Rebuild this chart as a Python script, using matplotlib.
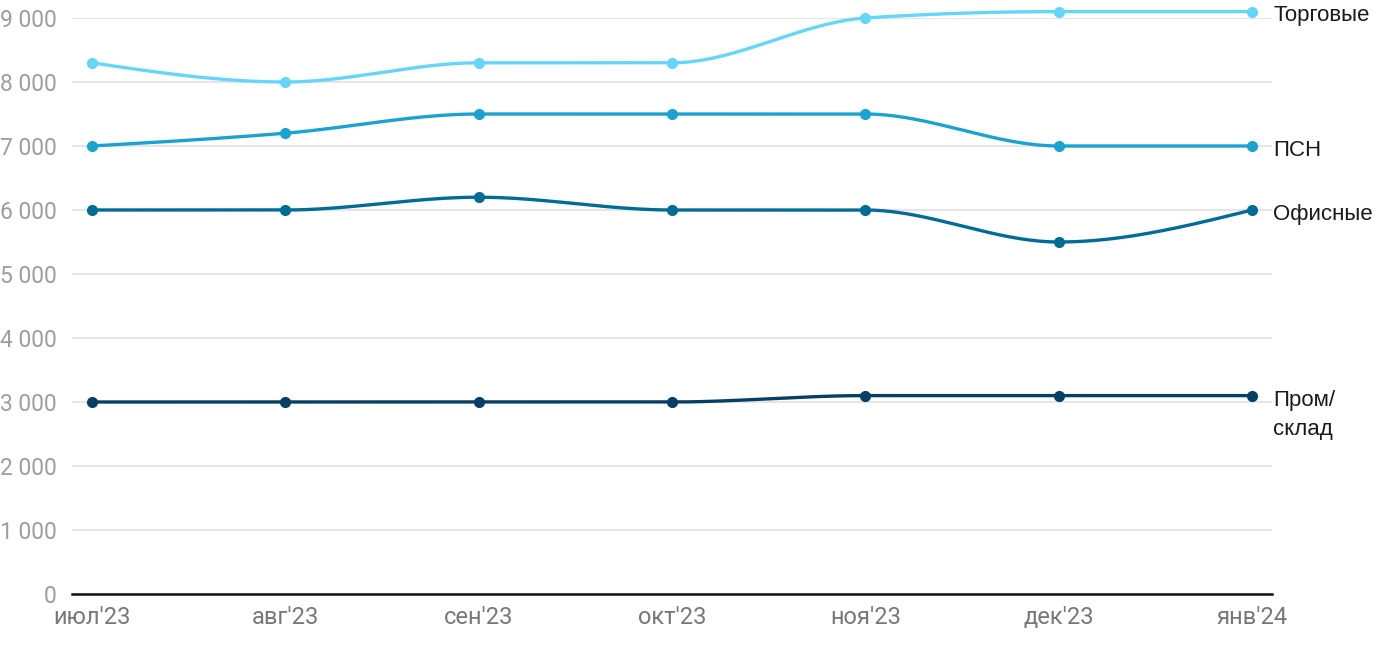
import numpy as np
import matplotlib.pyplot as plt

months = ["июл'23", "авг'23", "сен'23", "окт'23", "ноя'23", "дек'23", "янв'24"]
torgovye = [8300, 8000, 8300, 8300, 9000, 9100, 9100]
psn = [7000, 7200, 7500, 7500, 7500, 7000, 7000]
ofisnye = [6000, 6000, 6200, 6000, 6000, 5500, 6000]
prom = [3000, 3000, 3000, 3000, 3100, 3100, 3100]

series = [
    ("Торговые", torgovye, "#66d5fa"),
    ("ПСН", psn, "#1aa3d1"),
    ("Офисные", ofisnye, "#006c96"),
    ("Пром/\nсклад", prom, "#053f63"),
]


def monotone_curve(x, y, n=40):
    # same idea as d3.curveMonotoneX
    x = np.asarray(x, float)
    y = np.asarray(y, float)
    h = np.diff(x)
    s = np.diff(y) / h
    m = np.zeros(len(y))
    for k in range(1, len(y) - 1):
        p = (s[k - 1] * h[k] + s[k] * h[k - 1]) / (h[k - 1] + h[k])
        m[k] = (np.sign(s[k - 1]) + np.sign(s[k])) * min(abs(s[k - 1]), abs(s[k]), 0.5 * abs(p))
    m[0] = (3 * s[0] - m[1]) / 2
    m[-1] = (3 * s[-1] - m[-2]) / 2
    xs, ys = [], []
    for k in range(len(h)):
        t = np.linspace(0, 1, n)
        h00 = 2 * t**3 - 3 * t**2 + 1
        h10 = t**3 - 2 * t**2 + t
        h01 = -2 * t**3 + 3 * t**2
        h11 = t**3 - t**2
        xs.append(x[k] + t * h[k])
        ys.append(h00 * y[k] + h10 * h[k] * m[k] + h01 * y[k + 1] + h11 * h[k] * m[k + 1])
    return np.concatenate(xs), np.concatenate(ys)


fig = plt.figure(figsize=(14, 6.5), dpi=100)
ax = fig.add_axes([72 / 1400, 56 / 650, 1200 / 1400, 576 / 650])

x = np.arange(len(months))
for name, vals, col in series:
    cx, cy = monotone_curve(x, vals)
    ax.plot(cx, cy, color=col, lw=2.4, solid_capstyle="round", zorder=3, clip_on=False)
    ax.plot(x, vals, "o", color=col, ms=7, zorder=4, clip_on=False)
    multi = "\n" in name
    ax.annotate(name, xy=(1.0, vals[-1]), xycoords=("axes fraction", "data"),
                xytext=(1, 4) if multi else (1, -3), textcoords="offset points",
                va="top" if multi else "center",
                ha="left", fontsize=16, color="#1a1a1a",
                family="Liberation Sans", linespacing=1.5,
                annotation_clip=False)

ax.set_xlim(-0.1034, len(months) - 1 + 0.1034)
ax.set_ylim(0, 9000)
ax.set_yticks(np.arange(0, 9001, 1000))
ax.set_yticklabels([f"{v:,}".replace(",", " ") for v in range(0, 9001, 1000)])
ax.set_xticks(x)
ax.set_xticklabels(months)

ax.grid(axis="y", color="#e3e3e3", lw=1.3, zorder=0)
for sp in ["top", "right", "left"]:
    ax.spines[sp].set_visible(False)
ax.spines["bottom"].set_color("#111111")
ax.spines["bottom"].set_linewidth(1.8)
ax.spines["bottom"].set_zorder(5)
ax.tick_params(axis="both", length=0)
ax.tick_params(axis="y", pad=11, labelsize=16.5, labelcolor="#9e9e9e")
ax.tick_params(axis="x", pad=9, labelsize=17, labelcolor="#777777")
for lab in ax.get_xticklabels() + ax.get_yticklabels():
    lab.set_family("Roboto")

fig.savefig("out.png", dpi=100)
